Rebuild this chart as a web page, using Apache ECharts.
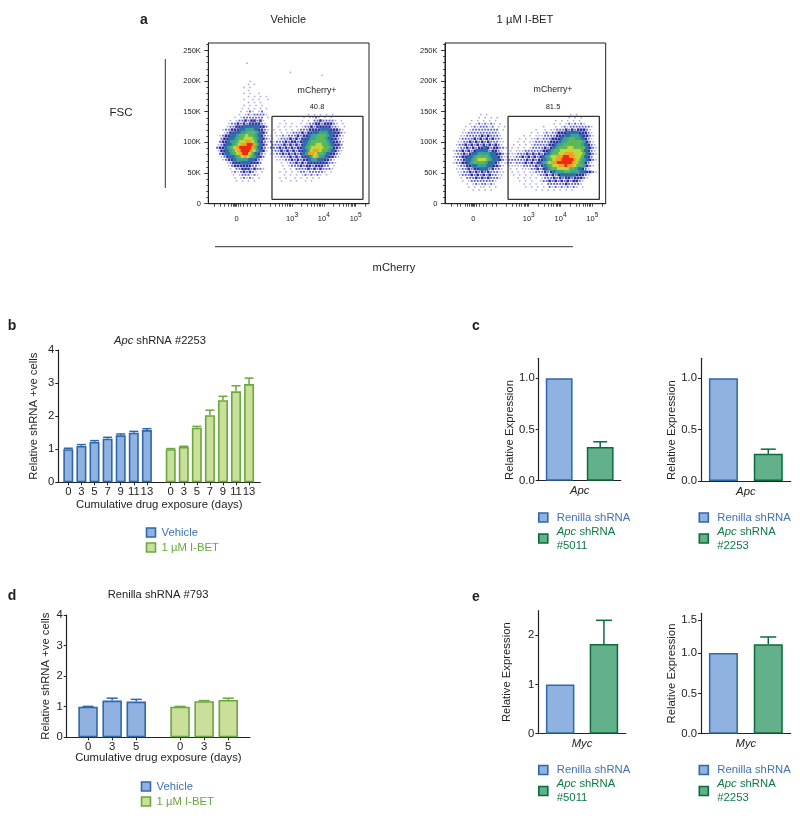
<!DOCTYPE html>
<html><head><meta charset="utf-8">
<style>html,body{margin:0;padding:0;background:#fff}#c{width:800px;height:819px;filter:blur(0.4px)}</style>
<script src="https://cdn.jsdelivr.net/npm/echarts@6/dist/echarts.min.js"></script>
</head><body><div id="c"></div>
<script>
// ---------- data ----------
const days13 = ['0','3','5','7','9','11','13'];
const days5 = ['0','3','5'];
const bVehicle = [1.0,1.1,1.22,1.32,1.42,1.5,1.58];
const bVehicleTop = [1.03,1.14,1.26,1.36,1.46,1.54,1.62];
const bIbet = [1.0,1.07,1.65,2.03,2.48,2.75,2.97];
const bIbetTop = [1.02,1.09,1.69,2.18,2.6,2.92,3.15];
const dVehicle = [1.0,1.2,1.17];
const dVehicleTop = [1.01,1.28,1.24];
const dIbet = [1.0,1.18,1.22];
const dIbetTop = [1.01,1.2,1.28];
const cLeft = [1.0,0.33], cLeftTop = 0.38;
const cRight = [1.0,0.265], cRightTop = 0.31;
const eLeft = [1.0,1.82], eLeftTop = 2.3;
const eRight = [1.0,1.11], eRightTop = 1.2;
const eRightTicks = [0,0.5,1,1.41];
const eRightTickLabels = ['0.0','0.5','1.0','1.5'];
const fscMajor = [0,50000,100000,150000,200000,250000];
const fscMinor = [10000,20000,30000,40000,60000,70000,80000,90000,110000,120000,130000,140000,160000,170000,180000,190000,210000,220000,230000,240000,260000];
// mCherry axis in display decades (biexponential); 0 lies at 1.26
const mcherryLabelled = [1.26,3,4,5];
const mcherryTicks = [0.55,0.74,0.86,0.99,1.08,1.14,1.18,1.22,1.26,1.3,1.36,1.46,1.58,1.68,1.84,1.99,2.3,2.48,2.6,2.7,2.78,2.85,2.9,2.95,3,3.3,3.48,3.6,3.7,3.78,3.85,3.9,3.95,4,4.3,4.48,4.6,4.7,4.78,4.85,4.9,4.95,5,5.3];
const gateLeft = [[2.37,142600],[5.23,142600],[5.23,7200],[2.37,7200],[2.37,142600]];
const gateRight = [[2.35,142600],[5.22,142600],[5.22,7200],[2.35,7200],[2.35,142600]];
// density level 0-9 per bin, estimated by eye; first row at the given FSC, decreasing per bin
const densityX0 = 0.547, densityDX = 0.0943, densityDY = 4918;
const leftTopFSC = 229000, rightTopFSC = 165000;
const leftDensity = [
"...........1","","",
"...................|......1",
"...................|.................1",
"",
"............1",
"...........1.1",
"..........1.1",
"...........1.......",
"..........1.1..1",
"...........1.1.1.1",
"..........1..1.1..1",
"...........1.1.1...",
"..........1.1.1.1..",
".........1.1.1.1.1.",
".........1.121.12..",
"........1.12122221.|............1.1.1.1.1.....",
".......1.12222222.1|...........1.1121.1.1.....",
".....1.1223233231..|....1.....1.1.22322221.1..",
".....1223232333321.|...1.1.1..1.12233233321.1.",
"....12233344444332.|..1.1.1.1.1223233333221.1.",
"...1223334455543321|.1.1.1.1.1222333344433321.",
"...123344556665432.|.1.1.11222323344555443321",
"..12334456676654321|1.11212223233455666543321",
"..23344566777654321|1.1222323233455666543321",
"..23345567788764321|2122232332344566666543321",
".12344567889986432.|222232323234566776654332",
".233456789999864321|2223232323345677776653321",
".13345678999875431.|122323232334578876654321",
"..2344567899764321.|112232323234588766543321",
"..123445678765432..|.1122232323345785543321",
"...12334555544321..|..11122323233455443321",
"....123334443332...|...1.12232323333333221",
".....12333333221...|....1.12223233233322.1",
".....1.2233323221..|....1.1.2222323232221",
"......121232321.1..|...1.1.1.1221222221.1",
"......1.1222121....|....1.1.1.1212121.1",
".......1.12121.1...|...1.1..1.1.1.1.1",
".......1.1.1.1.....|...1..1.1..1.1"
];
const rightDensity = [
"","","","",
"..........1.1......|.....................1.1",
".........1.1.1.1...|....................1.1.1",
".......1.1.1.1.1...|................1.1.1.1.1",
"......1.1212121.1..|...............1.1.1212121",
".....1.12122212.1.1|............1...1.12122222221",
"....1.1222222222.1.|.........1..1.11222323233321",
"....1122222222221..|........1.1.12122333444433321",
"...11222223232221..|.....1.1.11122223334455543321",
"...122223232323221.|....1.1.112122233345566554321",
"..1122323232322211.|...1.1.1122222333455666665321",
"..1223232323232321.|..1.1.1.1222223345566666654321",
"..12232323343233221|.1.1.1.12222323456667766664321",
".12232323444423321.|.1.111222222334566777777764321",
".122323445555443321|111222323232345667788877764321",
".122334456666544321|21122323232345677889988776432",
".122344567776544321|222222323233456788999987654321",
".122334566665443211|22122232323456788999998765321",
"..1223344555443321.|11111222232345677889887665321",
"..1122323344423221.|.1.1.11122323456677776654321",
"..1122323232322211.|.1.1.1.11222323455566555443321",
"...122232323232211.|..1.1.1.1.122323234444433321",
"...1.222323232221..|...1.1.1.1.1222323233233321",
"....1.1222222221...|....1.1.1..122323232323321",
".....1.12122121....|.....1.1.1.1.222222322221",
"......1.1.11.1.1...|......1.1.1.1.2121212121.1",
".......1.1.1.1.....|.........1.1.1.1.1.1.1"
];

// ---------- styles ----------
const FONT = '"Liberation Sans", Arial, sans-serif';
const FS = 11.3;
const INK = '#222';
const BLUE = {fill:'#8fb2e0', line:'#2f67ac', text:'#3f72b5'};
const LIME = {fill:'#c9df9a', line:'#69a83f', text:'#69a83f'};
const TEAL = {fill:'#63b18a', line:'#0c6b3a', text:'#0f7a44'};
const densityColors = [null,'#a5a7e4','#5f61c4','#2c2d9e','#2d6ea8','#3aa394','#5cb85a','#bcd93a','#f5a020','#ee2a12'];
const densitySizes = [0,1.5,1.9,2.6,3.6,3.6,3.6,3.6,3.6,3.6];

const grid=[],xAxis=[],yAxis=[],series=[],legend=[],graphic=[];
function addGrid(l,t,w,h){grid.push({left:l,top:t,width:w,height:h,containLabel:false});return grid.length-1;}
function label(text,x,y,size,opts){graphic.push(Object.assign({type:'text',silent:true,style:Object.assign({text,x,y,align:'center',verticalAlign:'middle',font:(size)+'px '+FONT,fill:INK},opts||{})}));}
function rule(x1,y1,x2,y2){graphic.push({type:'line',silent:true,shape:{x1,y1,x2,y2},style:{stroke:'#333',lineWidth:1}});}

// ---------- flow plots ----------
function densityPoints(rows,topFSC){
  const pts=[];
  rows.forEach((row,r)=>{
    const clean=row.replace('|','');
    for(let c=0;c<clean.length;c++){
      const lv=+clean[c];
      if(clean[c]!=='.'&&lv>0) pts.push([densityX0+(c+(r%2)*0.5)*densityDX,topFSC-r*densityDY,lv]);
    }
  });
  return pts;
}
function flowPlot(left,rows,topFSC,gate){
  const g=addGrid(left,43,160.7,160.7);
  grid[g].show=true;grid[g].borderColor='#222';grid[g].borderWidth=1;grid[g].backgroundColor='#fff';
  const x0=xAxis.length,y0=yAxis.length;
  xAxis.push({gridIndex:g,type:'value',min:0.368,max:5.42,position:'bottom',splitLine:{show:false},
    axisLine:{show:true,onZero:false,lineStyle:{color:'#222',width:1}},
    axisTick:{show:true,length:3,customValues:mcherryTicks,lineStyle:{color:'#222',width:0.8}},
    axisLabel:{show:true,margin:8,customValues:mcherryLabelled,fontFamily:FONT,color:INK,fontSize:7.5,
      formatter:v=>v<2?'{b|0}':'{b|10}{s|'+Math.round(v)+'}',
      rich:{b:{fontFamily:FONT,fontSize:7.5,color:INK,padding:[3,0,0,0]},s:{fontFamily:FONT,fontSize:6.5,color:INK,verticalAlign:'top',padding:[0,0,3,0]}}}});
  yAxis.push({gridIndex:g,type:'value',min:0,max:262144,position:'left',splitLine:{show:false},
    axisLine:{show:true,onZero:false,lineStyle:{color:'#222',width:1}},
    axisTick:{show:true,length:4,customValues:fscMajor,lineStyle:{color:'#222',width:0.9}},
    axisLabel:{show:true,margin:7.5,customValues:fscMajor,fontFamily:FONT,color:INK,fontSize:7.5,
      formatter:v=>v===0?'0':(v/1000)+'K'}});
  yAxis.push({gridIndex:g,type:'value',min:0,max:262144,position:'left',splitLine:{show:false},
    axisLine:{show:false},axisLabel:{show:false},
    axisTick:{show:true,length:2,customValues:fscMinor,lineStyle:{color:'#222',width:0.8}}});
  series.push({type:'scatter',xAxisIndex:x0,yAxisIndex:y0,data:densityPoints(rows,topFSC),symbol:'rect',
    symbolSize:v=>densitySizes[v[2]],itemStyle:{color:p=>densityColors[p.value[2]],opacity:1},silent:true,z:2,animation:false});
  series.push({type:'line',xAxisIndex:x0,yAxisIndex:y0,data:gate,showSymbol:false,symbol:'none',silent:true,z:5,
    lineStyle:{color:'#333',width:1.3},animation:false});
}
flowPlot(208.3,leftDensity,leftTopFSC,gateLeft);
flowPlot(445,rightDensity,rightTopFSC,gateRight);

label('a',144,20,14,{font:'bold 14px '+FONT});
label('Vehicle',288.3,20,11);
label('1 µM I-BET',525,20,11.2);
label('FSC',121,113,11.5);
rule(165.3,59,165.3,188);
rule(215,246.7,573,246.7);
label('mCherry',394,268,11.2);
label('mCherry+',317,90.5,8.8);
label('40.8',317,106.5,7.5);
label('mCherry+',553,89.5,8.8);
label('81.5',553,106.5,7.5);

// ---------- bar plots ----------
function errorSeries(xi,yi,pts,color,cap){
  return {type:'custom',xAxisIndex:xi,yAxisIndex:yi,silent:true,z:1,animation:false,
    data:pts,encode:{x:0,y:[1,2]},
    renderItem:(p,api)=>{
      const a=api.coord([api.value(0),api.value(1)]),b=api.coord([api.value(0),api.value(2)]);
      const st={stroke:color,lineWidth:1.5,fill:'none'};
      return {type:'group',children:[
        {type:'line',shape:{x1:a[0],y1:a[1],x2:b[0],y2:b[1]},style:st},
        {type:'line',shape:{x1:b[0]-cap/2,y1:b[1],x2:b[0]+cap/2,y2:b[1]},style:st}]};
    }};
}
const axisBase={splitLine:{show:false},axisLine:{show:true,onZero:false,lineStyle:{color:INK,width:1.2}},
  axisTick:{show:true,length:3,lineStyle:{color:INK,width:1}}};
function barStyle(c,w){return {color:c.fill,borderColor:c.line,borderWidth:w};}

function valueY(g,max,ticks,name,nameGap,namePad,fmt){
  yAxis.push(Object.assign({},axisBase,{gridIndex:g,type:'value',min:0,max:max,
    axisTick:{show:true,length:3,customValues:ticks,lineStyle:{color:INK,width:1}},
    axisLabel:{margin:4,customValues:ticks,color:INK,fontFamily:FONT,fontSize:FS,formatter:fmt},
    name:name,nameLocation:'middle',nameGap:nameGap,nameTextStyle:{color:INK,fontFamily:FONT,fontSize:FS,padding:namePad}}));
  return yAxis.length-1;
}

function groupedPanel(cfg){
  const base=addGrid(cfg.left,cfg.top,cfg.width,cfg.height);
  xAxis.push({gridIndex:base,type:'value',min:0,max:1,splitLine:{show:false},
    axisLine:{show:true,onZero:false,lineStyle:{color:INK,width:1.2}},axisTick:{show:false},axisLabel:{show:false},
    name:'Cumulative drug exposure (days)',nameLocation:'middle',nameGap:cfg.xGap,nameTextStyle:{color:INK,fontFamily:FONT,fontSize:FS}});
  valueY(base,4,[0,1,2,3,4],'Relative shRNA +ve cells',cfg.nameGap,[0,0,0,0],v=>String(v));
  cfg.groups.forEach(gr=>{
    const g=addGrid(gr.left,cfg.top,gr.width,cfg.height);
    xAxis.push({gridIndex:g,type:'category',data:cfg.cats,splitLine:{show:false},axisLine:{show:false},
      axisTick:{show:true,alignWithLabel:true,length:3,lineStyle:{color:INK,width:1}},
      axisLabel:{margin:4,interval:0,color:INK,fontFamily:FONT,fontSize:FS}});
    const xi=xAxis.length-1;
    yAxis.push({gridIndex:g,type:'value',min:0,max:4,show:false});
    const yi=yAxis.length-1;
    series.push({type:'bar',name:gr.name,xAxisIndex:xi,yAxisIndex:yi,data:gr.values,barWidth:cfg.barWidth,
      itemStyle:barStyle(gr.color,1.6),silent:true,animation:false,z:3});
    series.push(errorSeries(xi,yi,gr.values.map((v,i)=>[i,v,gr.tops[i]]),gr.color.line,cfg.cap));
  });
}
groupedPanel({left:58.3,top:350,width:202,height:132.3,cats:days13,barWidth:10,cap:9,nameGap:19,xGap:17,groups:[
  {left:61.75,width:91.7,name:'Vehicle',values:bVehicle,tops:bVehicleTop,color:BLUE},
  {left:164.2,width:91.4,name:'1 µM I-BET',values:bIbet,tops:bIbetTop,color:LIME}]});
groupedPanel({left:66.7,top:615,width:183.3,height:122.3,cats:days5,barWidth:19.5,cap:11,nameGap:15,xGap:15,groups:[
  {left:76,width:72.3,name:'Vehicle',values:dVehicle,tops:dVehicleTop,color:BLUE},
  {left:168,width:72.3,name:'1 µM I-BET',values:dIbet,tops:dIbetTop,color:LIME}]});

function pairPanel(cfg){
  const g=addGrid(cfg.left,cfg.top,cfg.width,cfg.height);
  xAxis.push({gridIndex:g,type:'category',data:['Renilla shRNA',cfg.apcName],splitLine:{show:false},
    axisLine:{show:true,onZero:false,lineStyle:{color:INK,width:1.2}},axisTick:{show:false},axisLabel:{show:false},
    name:cfg.gene,nameLocation:'middle',nameGap:5,nameTextStyle:{color:INK,fontFamily:FONT,fontSize:FS,fontStyle:'italic'}});
  const xi=xAxis.length-1;
  const yi=valueY(g,cfg.max,cfg.ticks,'Relative Expression',cfg.nameGap,cfg.namePad,cfg.fmt);
  series.push({type:'bar',name:'Renilla shRNA',xAxisIndex:xi,yAxisIndex:yi,data:[cfg.values[0],'-'],barWidth:cfg.barWidth,barGap:'-100%',
    itemStyle:barStyle(BLUE,1.5),silent:true,animation:false,z:3});
  series.push({type:'bar',name:cfg.apcName,xAxisIndex:xi,yAxisIndex:yi,data:['-',cfg.values[1]],barWidth:cfg.barWidth,barGap:'-100%',
    itemStyle:barStyle(TEAL,1.5),silent:true,animation:false,z:3});
  series.push(errorSeries(xi,yi,[[1,cfg.values[1],cfg.errTop]],TEAL.line,cfg.cap));
}
const f1=v=>v.toFixed(1);
pairPanel({left:538.7,top:358.3,width:82,height:122.4,max:1.195,ticks:[0,0.5,1],values:cLeft,errTop:cLeftTop,apcName:'Apc shRNA #5011',gene:'Apc',barWidth:26.8,cap:14,nameGap:21,namePad:[0,21,0,0],fmt:f1});
pairPanel({left:701,top:358.3,width:89.7,height:122.7,max:1.195,ticks:[0,0.5,1],values:cRight,errTop:cRightTop,apcName:'Apc shRNA #2253',gene:'Apc',barWidth:29,cap:15,nameGap:17,namePad:[0,21,0,0],fmt:f1});
pairPanel({left:538.3,top:610.7,width:87.5,height:123,max:2.495,ticks:[0,1,2],values:eLeft,errTop:eLeftTop,apcName:'Apc shRNA #5011',gene:'Myc',barWidth:28.5,cap:16,nameGap:26,namePad:[0,0,0,0],fmt:v=>String(v)});
pairPanel({left:701,top:613.3,width:89.7,height:120.4,max:1.494,ticks:eRightTicks,values:eRight,errTop:eRightTop,apcName:'Apc shRNA #2253',gene:'Myc',barWidth:29,cap:16,nameGap:17,namePad:[0,0,0,0],fmt:v=>eRightTickLabels[eRightTicks.indexOf(v)]});

// ---------- titles ----------
label('b',12,325.7,14,{font:'bold 14px '+FONT});
label('c',476,326,14,{font:'bold 14px '+FONT});
label('d',12,596,14,{font:'bold 14px '+FONT});
label('e',476,597,14,{font:'bold 14px '+FONT});
graphic.push({type:'text',silent:true,style:{text:'{i|Apc}{n| shRNA #2253}',x:160,y:341,align:'center',verticalAlign:'middle',
  rich:{i:{font:'italic 11.2px '+FONT,fill:INK},n:{font:'11.2px '+FONT,fill:INK}}}});
label('Renilla shRNA #793',158,595,11.2);

// ---------- legends ----------
function groupLegend(left,top,seriesNames,colors,pad){
  legend.push({left,top,orient:'vertical',padding:0,itemGap:1,itemWidth:9,itemHeight:9,selectedMode:false,
    data:seriesNames.map((n,i)=>({name:n,icon:'rect',itemStyle:{color:colors[i].fill,borderColor:colors[i].line,borderWidth:1.6},
      textStyle:{color:colors[i].text,fontFamily:FONT,fontSize:FS,lineHeight:14,padding:[0,0,0,pad]}}))});
}
groupLegend(145.7,525.5,['Vehicle','1 µM I-BET'],[BLUE,LIME],1);
groupLegend(140.7,779.5,['Vehicle','1 µM I-BET'],[BLUE,LIME],1);
function pairLegend(left,top,apcName){
  const num=apcName.split(' ').pop();
  legend.push({left,top,orient:'vertical',padding:0,itemGap:3,itemWidth:9,itemHeight:9,selectedMode:false,
    formatter:n=>n==='Renilla shRNA'?'{b|Renilla shRNA}':'{gi|Apc}{g| shRNA}\n{g|'+num+'}',
    textStyle:{padding:[0,0,0,4],fontFamily:FONT,fontSize:FS,rich:{
      b:{color:BLUE.text,fontFamily:FONT,fontSize:FS,lineHeight:14},
      g:{color:TEAL.text,fontFamily:FONT,fontSize:FS,lineHeight:14},
      gi:{color:TEAL.text,fontFamily:FONT,fontSize:FS,lineHeight:14,fontStyle:'italic'}}},
    data:[{name:'Renilla shRNA',icon:'rect',itemStyle:{color:BLUE.fill,borderColor:BLUE.line,borderWidth:1.6}},
          {name:apcName,icon:'rect',itemStyle:{color:TEAL.fill,borderColor:TEAL.line,borderWidth:1.6}}]});
}
pairLegend(538,512,'Apc shRNA #5011');
pairLegend(698.5,512,'Apc shRNA #2253');
pairLegend(538,764.5,'Apc shRNA #5011');
pairLegend(698.5,764.5,'Apc shRNA #2253');

const chart=echarts.init(document.getElementById('c'),null,{renderer:'canvas'});
chart.setOption({animation:false,backgroundColor:'#fff',textStyle:{fontFamily:FONT},grid,xAxis,yAxis,series,legend,graphic:{elements:graphic}});
</script></body></html>
